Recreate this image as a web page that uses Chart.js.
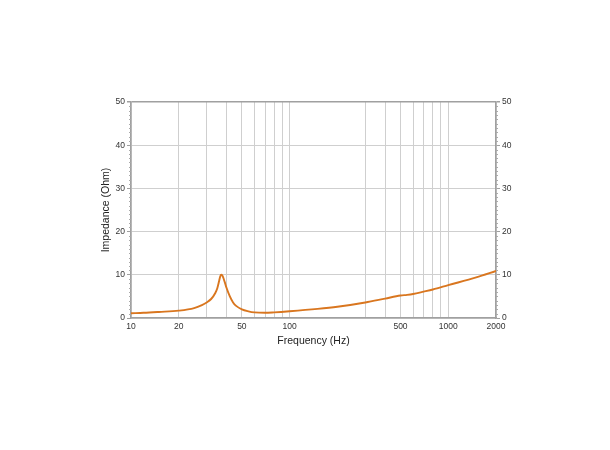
<!DOCTYPE html>
<html>
<head>
<meta charset="utf-8">
<script src="https://cdn.jsdelivr.net/npm/chart.js@4/dist/chart.umd.min.js"></script>
<style>
  html, body { margin: 0; padding: 0; background: #fff; }
  #wrap { width: 610px; height: 450px; }
</style>
</head>
<body>
<div id="wrap"><canvas id="myChart" width="610" height="450"></canvas></div>
<script>
// data
const freqs = [10, 12, 15, 20, 25, 28, 30, 32, 34, 35, 36, 36.5, 37, 37.5, 38, 39, 40, 42, 44, 46, 50, 55, 60, 70, 80, 100, 150, 200, 300, 400, 500, 550, 600, 700, 800, 1000, 1500, 2000];
const impedance = [1.1, 1.2, 1.4, 1.7, 2.3, 3.0, 3.6, 4.4, 5.8, 6.9, 8.7, 9.6, 10.0, 9.9, 9.5, 8.3, 7.0, 5.0, 3.6, 2.8, 2.0, 1.55, 1.3, 1.2, 1.3, 1.55, 2.1, 2.6, 3.6, 4.5, 5.2, 5.35, 5.55, 6.1, 6.6, 7.6, 9.4, 10.9];
const gridFreqs = [10, 20, 30, 40, 50, 60, 70, 80, 90, 100, 300, 400, 500, 600, 700, 800, 900, 1000, 2000];
const freqLabels = [10, 20, 50, 100, 500, 1000, 2000];
const yTicks = [0, 10, 20, 30, 40, 50];

const lineColor = "#d9761f";
const tickFont = { family: "'Liberation Sans', Arial, sans-serif", size: 8.5 };
const titleFont = { family: "'Liberation Sans', Arial, sans-serif", size: 10.5 };

// minor ticks on both y axes
const minorTicks = {
  id: "minorTicks",
  afterDraw(chart) {
    const ctx = chart.ctx;
    ctx.save();
    ctx.strokeStyle = "#aaa";
    ctx.lineWidth = 1;
    ["y", "y2"].forEach((id) => {
      const s = chart.scales[id];
      const x0 = id === "y" ? s.right : s.left;
      const dir = id === "y" ? -1 : 1;
      for (let v = s.min + 1; v < s.max; v++) {
        if (v % 10 === 0) continue;
        const py = Math.round(s.getPixelForValue(v)) + 0.5;
        ctx.beginPath();
        ctx.moveTo(x0, py);
        ctx.lineTo(x0 + dir * 2, py);
        ctx.stroke();
      }
    });
    ctx.restore();
  },
};

const data = {
  datasets: [
    {
      label: "Impedance",
      data: freqs.map((f, i) => ({ x: f, y: impedance[i] })),
      borderColor: lineColor,
      borderWidth: 1.9,
      pointRadius: 0,
      fill: false,
      cubicInterpolationMode: "monotone",
    },
  ],
};

const yScale = (pos) => ({
  position: pos,
  min: 0,
  max: 50,
  afterBuildTicks: (scale) => {
    scale.ticks = yTicks.map((v) => ({ value: v }));
  },
  afterFit: (scale) => {
    scale.width = pos === "left" ? 33 : 26;
  },
  ticks: {
    color: "#333",
    font: tickFont,
    padding: 2,
    align: "center",
  },
  grid: {
    drawOnChartArea: pos === "left",
    color: (c) => (c.tick && c.tick.value === 50 ? "#a0a0a0" : "#cfcfcf"),
    lineWidth: (c) => (c.tick && c.tick.value === 50 ? 1.5 : 1),
    tickColor: "#a0a0a0",
    tickLength: 4,
  },
  border: { color: "#a0a0a0", width: 1.5 },
  title: {
    display: pos === "left",
    text: "Impedance (Ohm)",
    color: "#222",
    font: titleFont,
    padding: { top: 2, bottom: 0 },
  },
});

const config = {
  type: "line",
  data,
  options: {
    responsive: false,
    animation: false,
    layout: { padding: { left: 98, right: 88, top: 102, bottom: 103 } },
    plugins: {
      legend: { display: false },
      tooltip: { enabled: false },
    },
    scales: {
      x: {
        type: "logarithmic",
        min: 10,
        max: 2000,
        afterBuildTicks: (scale) => {
          scale.ticks = gridFreqs.map((v) => ({ value: v }));
        },
        afterFit: (scale) => {
          scale.height = 29;
        },
        ticks: {
          autoSkip: false,
          maxRotation: 0,
          color: "#333",
          font: tickFont,
          padding: 4,
          callback: (v) => (freqLabels.includes(v) ? String(v) : ""),
        },
        grid: {
          drawTicks: false,
          color: "#cfcfcf",
          lineWidth: 1,
        },
        border: { color: "#a0a0a0", width: 1.5 },
        title: {
          display: true,
          text: "Frequency (Hz)",
          color: "#222",
          font: titleFont,
          padding: { top: 0, bottom: 0 },
        },
      },
      y: yScale("left"),
      y2: yScale("right"),
    },
  },
  plugins: [minorTicks],
};

const myChart = new Chart(document.getElementById("myChart"), config);
</script>
</body>
</html>
